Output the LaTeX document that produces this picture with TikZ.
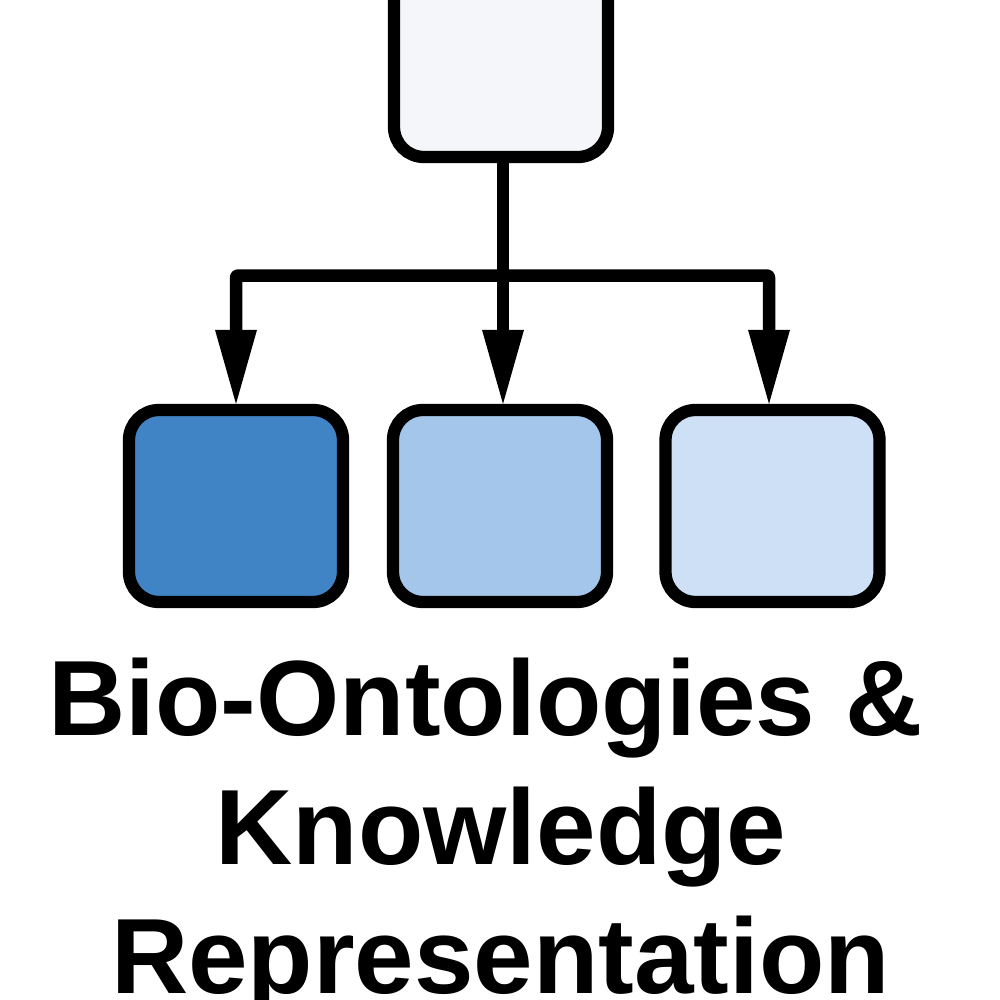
\documentclass[tikz,border=0pt]{standalone}
\usepackage{fontspec}
\setmainfont{Liberation Sans}
\usetikzlibrary{arrows.meta}
\definecolor{cTop}{HTML}{F5F6F9}
\definecolor{cA}{HTML}{4084C5}
\definecolor{cB}{HTML}{A3C6EA}
\definecolor{cC}{HTML}{CDE0F6}
\tikzset{
  boxn/.style={draw=black,line width=12.3pt,rounded corners=30pt,inner sep=0pt,minimum width=214pt,minimum height=192pt},
  conn/.style={draw=black,line width=12.5pt,line join=round,rounded corners=2pt},
  arr/.style={conn,-{Triangle[length=74pt,width=42pt,line width=0pt]}},
  titlet/.style={font=\bfseries\fontsize{107pt}{120pt}\selectfont,inner sep=0pt,anchor=base}
}
\begin{document}
\begin{tikzpicture}[x=1pt,y=-1pt]
\useasboundingbox (0,0) rectangle (1000,1000);
\fill[white] (0,0) rectangle (1000,1000);
\node[boxn,fill=cTop,minimum height=314pt] (top) at (501,0) {};
\node[boxn,fill=cA] (a) at (236,506) {};
\node[boxn,fill=cB] (b) at (500,506) {};
\node[boxn,fill=cC] (c) at (772.5,506) {};
\coordinate (j) at (503,275.5);
\coordinate (l) at (236,275.5);
\coordinate (r) at (769,275.5);
\draw[conn] (top.south -| j) -- (j);
\draw[arr] (j) -- (l) -- (l |- a.north);
\draw[arr] (j) -- (j |- b.north);
\draw[arr] (j) -- (r) -- (r |- c.north);
\node[titlet] (t1) at (485.5,735) {Bio-Ontologies \&};
\node[titlet] (t2) at (501,864.5) {Knowledge};
\node[titlet] (t3) at (500.5,993) {Representation};
\end{tikzpicture}
\end{document}
